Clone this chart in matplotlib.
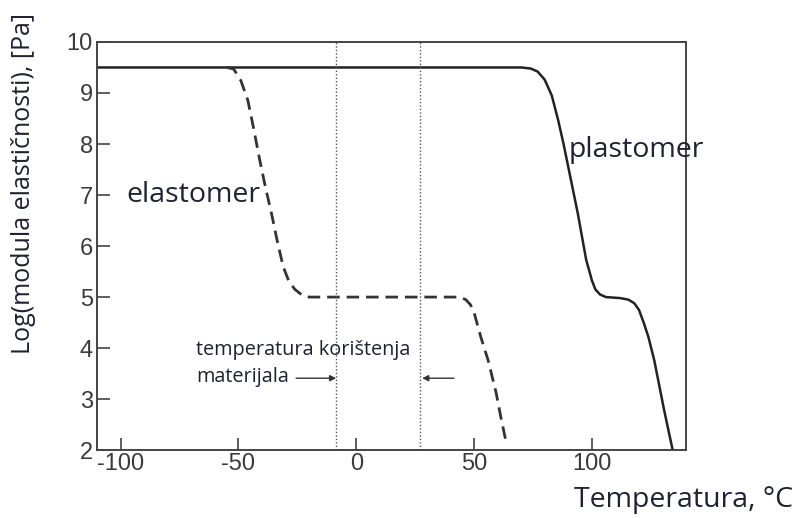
import numpy as np
import matplotlib
matplotlib.use("Agg")
from matplotlib import pyplot as plt

# Krivulje očitane sa slike (temperatura u °C, log modula u Pa)
plast_t = [-110, 70, 74, 77, 80, 83, 85.7, 88, 90, 94, 97.6, 99, 100, 101.5,
           103.5, 106, 112, 115.5, 118, 120, 122, 124, 126.5, 130.7, 134.5]
plast_e = [9.5, 9.5, 9.48, 9.42, 9.26, 8.95, 8.47, 8.0, 7.55, 6.65, 5.73, 5.5,
           5.33, 5.15, 5.05, 5.0, 4.98, 4.95, 4.88, 4.75, 4.5, 4.22, 3.76, 2.78, 1.96]

elast_t = [-55, -52, -49, -46, -43.5, -41, -38.5, -36, -33.5, -31, -28.5, -26,
           -23, -20, 44, 46.5, 48.5, 50, 51.5, 53, 56, 59.4, 61.5, 63.7]
elast_e = [9.5, 9.47, 9.25, 8.86, 8.3, 7.7, 7.15, 6.65, 6.1, 5.6, 5.3, 5.15,
           5.04, 5.0, 5.0, 4.95, 4.85, 4.7, 4.45, 4.2, 3.76, 3.12, 2.62, 2.14]

# Granice temperature korištenja
t_use = [-8.5, 27]

x_ticks = [-100, -50, 0, 50, 100]
y_ticks = [2, 3, 4, 5, 6, 7, 8, 9, 10]

txt_color = '#1f2233'
tick_color = '#3a3a3a'

plt.rcParams['axes.unicode_minus'] = False

fig = plt.figure(figsize=(7.95, 5.18), dpi=100)
ax = fig.add_axes([0.122, 0.131, 0.741, 0.788])

ax.plot(plast_t, plast_e, color='#222222', lw=1.8, solid_capstyle='round')
ax.plot(elast_t, elast_e, color='#333333', lw=2.0, dashes=(4.5, 2.5))

for t in t_use:
    ax.axvline(t, color='#555555', lw=1.0, ls=(0, (1, 1.5)))

ax.set_xlim(-110, 140)
ax.set_ylim(2, 10)
ax.set_xticks(x_ticks)
ax.set_yticks(y_ticks)
ax.tick_params(direction='in', length=9, width=1.2, color='#444444',
               labelsize=17, labelcolor=tick_color)
ax.tick_params(axis='y', pad=3)
ax.tick_params(axis='x', pad=2)
for s in ax.spines.values():
    s.set_color('#444444')
    s.set_linewidth(1.4)
for lab in ax.get_xticklabels() + ax.get_yticklabels():
    lab.set_family('Liberation Sans')

ax.text(-97.6, 7.0, 'elastomer', fontsize=20.5, family='Open Sans',
        color=txt_color, va='center', ha='left')
ax.text(90, 7.88, 'plastomer', fontsize=20.5, family='Open Sans',
        color=txt_color, va='center', ha='left')
ax.text(-68, 3.96, 'temperatura korištenja', fontsize=14.3, family='Open Sans',
        color=txt_color, va='center', ha='left')
ax.text(-68, 3.43, 'materijala', fontsize=14.3, family='Open Sans',
        color=txt_color, va='center', ha='left')

ax.annotate('', xy=(t_use[0], 3.41), xytext=(-25.5, 3.41),
            arrowprops=dict(arrowstyle='-|>', color='#333333', lw=1.0,
                            mutation_scale=9, shrinkA=0, shrinkB=0))
ax.annotate('', xy=(t_use[1] + 1, 3.41), xytext=(41.5, 3.41),
            arrowprops=dict(arrowstyle='-|>', color='#333333', lw=1.0,
                            mutation_scale=9, shrinkA=0, shrinkB=0))

fig.text(0.029, 0.645, 'Log(modula elastičnosti), [Pa]', rotation=90,
         fontsize=18, family='Open Sans', color=txt_color, va='center', ha='center')
fig.text(0.998, 0.035, 'Temperatura, °C', fontsize=20.5, family='Open Sans',
         color=txt_color, va='center', ha='right')

fig.savefig('out.png', dpi=100)
